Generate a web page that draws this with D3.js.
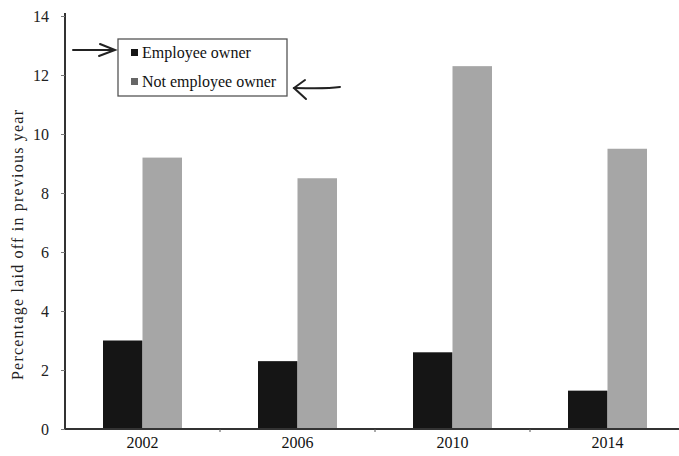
<!DOCTYPE html>
<html><head><meta charset="utf-8">
<script src="https://cdn.jsdelivr.net/npm/d3@7"></script>
<style>body{margin:0;background:#fff}svg{display:block}svg text{font-family:"Liberation Serif","DejaVu Serif",serif}</style>
</head><body>
<svg id="c" width="679" height="456"></svg>
<script>
const years = ["2002","2006","2010","2014"];
const seriesNames = ["Employee owner","Not employee owner"];
const employeeOwner = [3.0, 2.3, 2.6, 1.3];
const notEmployeeOwner = [9.2, 8.5, 12.3, 9.5];
const yTicks = [0,2,4,6,8,10,12,14];
const colors = ["#151515","#a6a6a6"];

const FONT = '"Liberation Serif", "DejaVu Serif", serif';
const svg = d3.select("#c");
const mLeft = 65, mRight = 685, mTop = 16, mBottom = 429;
const x = d3.scaleBand().domain(years).range([mLeft, mRight]).padding(0);
const x1 = d3.scaleBand().domain(seriesNames).range([0, 79]).padding(0);
const y = d3.scaleLinear().domain([0,14]).range([mBottom, mTop]);

// bars
const data = years.map((yr,i)=>({yr, vals:[employeeOwner[i], notEmployeeOwner[i]]}));
const g = svg.append("g");
data.forEach(d=>{
  const cx = x(d.yr) + x.bandwidth()/2 - 39.5;
  d.vals.forEach((v,j)=>{
    g.append("rect")
      .attr("x", cx + x1(seriesNames[j]))
      .attr("width", x1.bandwidth())
      .attr("y", y(v))
      .attr("height", y(0)-y(v))
      .attr("fill", colors[j]);
  });
});

// y axis
const ya = svg.append("g").attr("transform",`translate(${mLeft},0)`)
  .call(d3.axisLeft(y).tickValues(yTicks).tickSize(4).tickPadding(12).tickFormat(d3.format("d")));
ya.select(".domain").attr("stroke","#333").attr("stroke-width",2).attr("d",`M0,${mBottom}V${mTop-3}`);
ya.selectAll(".tick line").attr("stroke","#777");
ya.selectAll("text").style("font-family",FONT).style("font-size","16px").attr("fill","#222");

// x axis
const xa = svg.append("g").attr("transform",`translate(0,${mBottom})`)
  .call(d3.axisBottom(x).tickSize(0).tickPadding(8));
xa.select(".domain").attr("stroke","#333").attr("stroke-width",2).attr("d",`M${mLeft},0H679`);
xa.selectAll("text").style("font-family",FONT).style("font-size","16px").attr("fill","#111");
xa.selectAll(".sep").data(years.slice(1)).enter().append("line")
  .attr("x1",d=>x(d)).attr("x2",d=>x(d)).attr("y1",0).attr("y2",3)
  .attr("stroke","#555");

// y label
svg.append("text")
  .attr("transform","translate(23,245) rotate(-90)")
  .attr("text-anchor","middle").attr("fill","#222")
  .style("font-family",FONT).style("font-size","16px")
  .attr("textLength",270).attr("lengthAdjust","spacing")
  .text("Percentage laid off in previous year");

// legend
const lg = svg.append("g");
lg.append("rect").attr("x",118).attr("y",39).attr("width",169).attr("height",57)
  .attr("fill","#fff").attr("stroke","#555").attr("stroke-width",1.3);
seriesNames.forEach((s,i)=>{
  const cy = 52 + i*29;
  lg.append("rect").attr("x",131).attr("y",cy-3).attr("width",7).attr("height",7).attr("fill",i?"#666":colors[0]);
  lg.append("text").attr("x",142).attr("y",cy+6).attr("fill","#111")
    .style("font-family",FONT).style("font-size","16px").text(s);
});

// hand-drawn arrows
const arr = svg.append("g").attr("fill","none").attr("stroke","#222").attr("stroke-width",2).attr("stroke-linecap","round");
arr.append("path").attr("d","M73,50 C88,50 100,50 114,50");
arr.append("path").attr("d","M100,44 L115,50 L99,56");
arr.append("path").attr("d","M294,88 C310,88 325,89 340,87");
arr.append("path").attr("d","M305,80 L294,88 L306,99");
</script>
</body></html>
